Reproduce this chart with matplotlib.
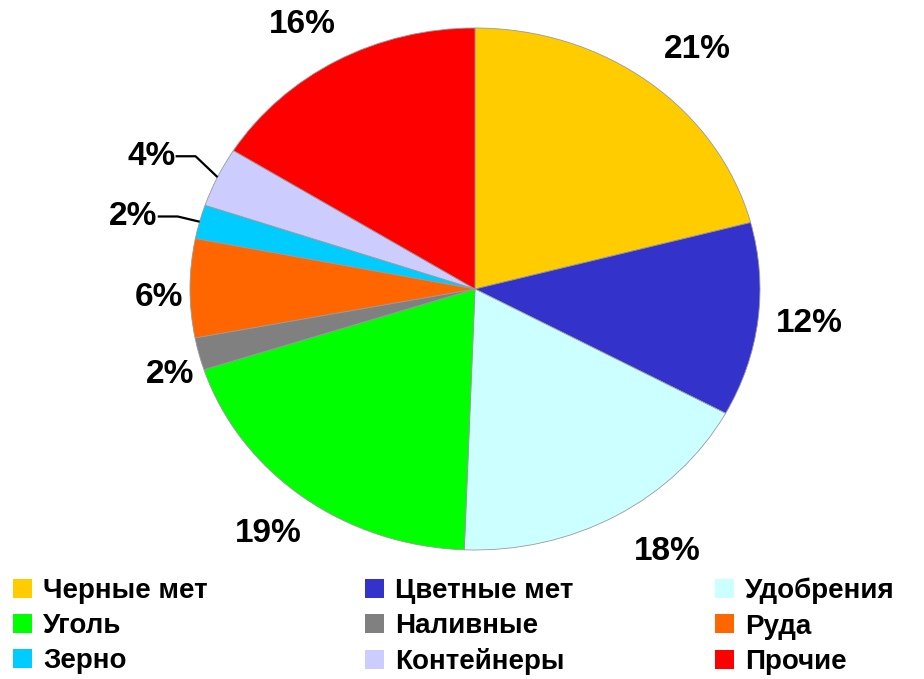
import matplotlib
matplotlib.use('Agg')
import matplotlib.pyplot as plt
import matplotlib.patches as mpatches
import numpy as np

# данные (доли, %; подписи округлены)
categories = ['Черные мет', 'Цветные мет', 'Удобрения', 'Уголь', 'Наливные',
              'Руда', 'Зерно', 'Контейнеры', 'Прочие']
shares = [20.9, 12.0, 17.7, 19.4, 2.0, 6.1, 2.1, 3.7, 16.1]
colors = ['#FFCC00', '#3333CC', '#CCFFFF', '#00FF00', '#808080',
          '#FF6600', '#00CCFF', '#CCCCFF', '#FF0000']

font = ['Liberation Sans', 'DejaVu Sans']

W, H = 924, 679
fig = plt.figure(figsize=(W / 100, H / 100), dpi=100)

# оси круга (слегка вытянутый эллипс как в оригинале)
ax = fig.add_axes([190 / W, (H - 550) / H, 570 / W, 522 / H])
wedges, _ = ax.pie(shares, colors=colors, startangle=90, counterclock=False,
                   wedgeprops=dict(linewidth=0.6, edgecolor='#9a9a9a'))
ax.set_aspect('auto')
ax.set_xlim(-1, 1)
ax.set_ylim(-1, 1)
ax.axis('off')

# положение подписей: радиус и сдвиг угла (град.)
label_r = [1.206, 1.18, 1.212, 1.184, 1.119, 1.109, None, None, 1.181]
label_dth = [-2.7, 0.5, 4.1, -0.7, 2.6, 1.8, 0, 0, 1.8]
# выносные линии: подъём излома над краем сектора
leader_dy = [None, None, None, None, None, None, 0.02, 0.08, None]

for w, val, r, dth, ldy in zip(wedges, shares, label_r, label_dth, leader_dy):
    mid = (w.theta1 + w.theta2) / 2
    ang = np.deg2rad(mid)
    ex, ey = np.cos(ang), np.sin(ang)
    txt = f'{round(val)}%'
    if ldy is not None:
        ky = ey + ldy
        kx = ex - 0.077
        lx = kx - 0.07
        ax.plot([ex, kx, lx], [ey, ky, ky], color='black', lw=1.6,
                clip_on=False, solid_capstyle='butt')
        ax.text(lx, ky, txt, ha='right', va='center', fontsize=24,
                fontweight='bold', family=font)
    else:
        a = np.deg2rad(mid + dth)
        ax.text(np.cos(a) * r, np.sin(a) * r, txt, ha='center',
                va='center', fontsize=24, fontweight='bold', family=font)

# легенда: три колонки, порядок по строкам
col_x = [13 / W, 365 / W, 715 / W]
for c in range(3):
    idx = [c, c + 3, c + 6]
    handles = [mpatches.Patch(facecolor=colors[i], edgecolor='none') for i in idx]
    fig.legend(handles, [categories[i] for i in idx],
               loc='upper left', bbox_to_anchor=(col_x[c], 1 - 578 / H),
               frameon=False, handlelength=0.68, handleheight=0.68,
               handletextpad=0.4, labelspacing=0.33, borderaxespad=0,
               borderpad=0,
               prop=dict(family=font, weight='bold', size=20))

fig.savefig('out.png', dpi=100, facecolor='white')
